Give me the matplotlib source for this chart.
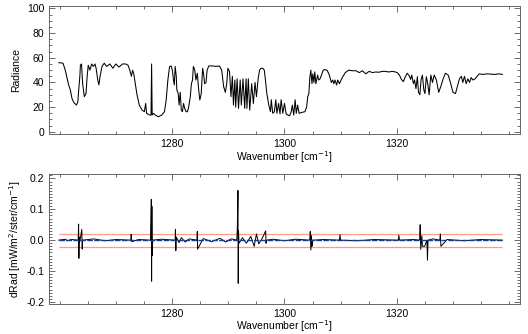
import matplotlib.pyplot as plt
from matplotlib.ticker import MultipleLocator, FixedLocator

plt.rcParams['font.family'] = ['Liberation Sans', 'DejaVu Sans']

# top panel: radiance spectrum
wn_rad = [1259.75, 1260.5, 1260.9, 1261.3, 1261.5, 1261.8, 1262.1, 1262.45, 1262.9, 1263.15,
          1263.3, 1263.5, 1263.6, 1263.8, 1264.0, 1264.3, 1264.6, 1264.8, 1265.0, 1265.3,
          1265.6, 1265.9, 1266.2, 1266.4, 1266.7, 1266.9, 1267.1, 1267.45, 1267.85, 1268.3,
          1268.85, 1269.4, 1269.9, 1270.5, 1271.1, 1271.7, 1272.1, 1272.4, 1272.7, 1272.9,
          1273.1, 1273.4, 1273.7, 1274.1, 1274.6, 1275.0, 1275.25, 1275.4, 1275.95, 1276.2,
          1276.3, 1276.4, 1276.65, 1276.95, 1277.5, 1278.1, 1278.6, 1278.9, 1279.2, 1279.5,
          1279.8, 1280.0, 1280.2, 1280.35, 1280.5, 1280.7, 1280.8, 1281.05, 1281.2, 1281.4,
          1281.6, 1281.8, 1282.0, 1282.2, 1282.45, 1282.7, 1282.9, 1283.2, 1283.4, 1283.6,
          1283.75, 1284.0, 1284.2, 1284.45, 1284.7, 1284.9, 1285.15, 1285.4, 1285.6, 1285.75,
          1286.0, 1286.2, 1286.5, 1287.2, 1287.8, 1288.4, 1288.8, 1289.15, 1289.45, 1289.7,
          1289.9, 1290.2, 1290.45, 1290.7, 1290.9, 1291.15, 1291.3, 1291.55, 1291.8, 1292.1,
          1292.3, 1292.6, 1292.9, 1293.15, 1293.3, 1293.55, 1293.8, 1294.15, 1294.45, 1294.75,
          1295.0, 1295.3, 1295.55, 1295.8, 1296.15, 1296.4, 1296.6, 1296.85, 1297.2, 1297.5,
          1297.65, 1297.9, 1298.2, 1298.45, 1298.65, 1298.95, 1299.2, 1299.4, 1299.7, 1300.0,
          1300.3, 1300.6, 1300.9, 1301.2, 1301.4, 1301.65, 1301.9, 1302.1, 1302.35, 1302.6,
          1303.05, 1303.65, 1303.95, 1304.15, 1304.35, 1304.5, 1304.7, 1304.9, 1305.05, 1305.25,
          1305.4, 1305.6, 1305.9, 1306.1, 1306.35, 1306.6, 1306.9, 1307.3, 1307.65, 1308.0,
          1308.35, 1308.6, 1308.8, 1309.0, 1309.3, 1309.5, 1309.8, 1310.1, 1310.4, 1310.85,
          1311.45, 1312.15, 1312.75, 1313.35, 1313.9, 1314.5, 1315.1, 1315.7, 1316.25, 1316.85,
          1317.45, 1318.0, 1318.6, 1319.2, 1319.8, 1320.1, 1320.5, 1320.85, 1321.2, 1321.55,
          1321.9, 1322.3, 1322.5, 1322.7, 1323.0, 1323.2, 1323.45, 1323.7, 1323.9, 1324.15,
          1324.35, 1324.6, 1324.85, 1325.05, 1325.3, 1325.55, 1325.8, 1326.1, 1326.4, 1326.7,
          1327.1, 1327.5, 1327.9, 1328.3, 1328.7, 1329.2, 1329.65, 1330.05, 1330.5, 1330.85,
          1331.2, 1331.55, 1331.8, 1332.1, 1332.4, 1332.7, 1333.0, 1333.3, 1333.6, 1334.0,
          1334.35, 1334.75, 1335.35, 1336.2, 1337.4, 1338.3, 1338.85]
radiance = [56.1, 55.6, 50, 42, 38, 34, 27, 23.6, 21.7, 24.4,
            34, 44.7, 54, 55, 39, 28.5, 31, 44.7, 54, 50,
            55, 53, 55, 51.5, 42, 38, 44.7, 53, 55.6, 53,
            55, 51.5, 55, 52.5, 55, 55, 54, 50, 45, 50,
            47.5, 39, 30, 21.7, 17.6, 16.3, 23, 15, 13.6, 13.6,
            55, 13.6, 15, 13.6, 12.2, 13.6, 16.3, 25.8, 42, 52.8,
            53.4, 50, 42, 38, 53, 45, 34, 31, 21.7, 32,
            17.6, 16.3, 23, 19, 16.3, 16.3, 20, 28.5, 39, 42,
            53, 50, 42, 47.5, 34, 25.8, 31, 51.5, 46, 39,
            40, 50, 53.4, 53.4, 53, 53.4, 50, 36.6, 32, 39,
            51.5, 49, 28.5, 45, 21.7, 42, 20, 43, 19, 42,
            21.7, 43, 19, 43, 19, 43, 17.6, 39, 23, 40,
            28.5, 43, 50, 51.5, 51.5, 50, 42, 31, 21.7, 16.3,
            26, 15, 16.3, 26, 15, 23, 14.5, 26, 15, 23,
            14.5, 13.6, 13, 16.3, 21.7, 13.6, 26, 15, 21.7, 15,
            15.7, 16.3, 20, 28.5, 31, 43, 50, 39, 47, 40,
            48.6, 39, 46, 42, 43, 46, 50, 50.5, 49.5, 46,
            40, 42, 39, 42, 38, 42, 39, 42, 44.7, 48,
            50, 49.5, 49.5, 48, 49.5, 47, 49, 48, 48.5, 48.3,
            49, 49, 48.5, 49, 48.5, 48, 46, 42.5, 40.7, 44.7,
            47.5, 45, 42.5, 46, 39, 42, 35, 44.7, 32, 30,
            42, 46, 34, 31, 44.7, 39, 30, 46, 40, 46,
            42, 32, 37, 43, 47.5, 46, 39, 32, 31, 37,
            43, 45, 40, 45, 39, 43, 40, 44, 42, 43,
            45, 47, 46.5, 47, 46.5, 47, 46.5]

# bottom panel: radiance difference
wn_diff = [1259.75, 1261.0, 1261.2, 1262.0, 1263.2, 1263.28, 1263.33, 1263.4, 1263.5, 1263.85,
           1263.92, 1264.0, 1266.0, 1268.0, 1270.0, 1272.6, 1272.65, 1272.75, 1274.0, 1276.1,
           1276.15, 1276.25, 1276.3, 1276.35, 1276.4, 1276.5, 1278.0, 1280.5, 1280.55, 1280.62,
           1280.7, 1281.2, 1281.6, 1282.3, 1283.0, 1284.4, 1284.45, 1284.5, 1285.5, 1287.0,
           1288.5, 1289.5, 1290.5, 1291.5, 1291.6, 1291.7, 1291.75, 1291.8, 1291.9, 1292.5,
           1293.2, 1294.0, 1294.6, 1295.0, 1295.4, 1296.0, 1296.65, 1296.7, 1296.8, 1298.0,
           1300.0, 1302.0, 1304.5, 1304.6, 1304.7, 1304.8, 1304.9, 1305.0, 1307.0, 1309.8,
           1309.9, 1310.0, 1313.0, 1316.0, 1320.3, 1320.4, 1320.5, 1323.0, 1324.1, 1324.2,
           1324.3, 1324.5, 1324.6, 1325.0, 1325.4, 1325.5, 1325.6, 1326.5, 1327.7, 1327.8,
           1327.9, 1329.0, 1332.0, 1335.0, 1338.85]
drad = [0.0, 0.003, -0.002, 0.002, 0.0, 0.052, -0.059, 0.01, -0.005, 0.035,
        -0.029, 0.0, 0.004, -0.002, 0.002, 0.0, 0.019, -0.005, 0.002, 0.0,
        0.045, 0.132, -0.133, 0.11, -0.05, 0.0, 0.003, 0.0, 0.035, -0.034,
        0.01, -0.008, 0.008, -0.006, 0.004, 0.0, 0.028, -0.029, 0.005, -0.005,
        0.006, -0.006, 0.004, 0.0, 0.048, 0.161, -0.14, 0.03, -0.01, 0.008,
        -0.01, 0.012, -0.02, 0.02, -0.012, 0.005, 0.03, -0.01, 0.0, 0.003,
        -0.002, 0.003, 0.0, 0.028, -0.032, 0.015, -0.02, 0.0, 0.002, 0.0,
        0.018, 0.0, -0.002, 0.002, 0.0, 0.016, 0.0, 0.002, 0.0, 0.05,
        -0.03, 0.015, -0.02, -0.02, 0.0, -0.065, 0.0, 0.004, 0.0, 0.02,
        -0.02, 0.002, -0.002, 0.002, 0.0]
wn_mean = [1259.75, 1280.0, 1300.0, 1320.0, 1338.85]
drad_mean = [0.0, 0.0, 0.0, 0.0, 0.0]
limits = [-0.021, 0.021]
x_labels = [1280, 1300, 1320]

fig = plt.figure(figsize=(5.28, 3.34), dpi=100)
ax1 = fig.add_axes([0.0928, 0.598, 0.892, 0.384])
ax2 = fig.add_axes([0.0928, 0.0907, 0.892, 0.388])

ax1.plot(wn_rad, radiance, color='black', lw=0.75)
ax1.set_ylim(-2, 102)
ax1.yaxis.set_major_locator(MultipleLocator(20))
ax1.yaxis.set_minor_locator(MultipleLocator(5))
ax1.set_ylabel('Radiance', fontsize=7.5, labelpad=4)

ax2.hlines(limits, wn_diff[0], wn_diff[-1], color='#ff9a8a', lw=0.9)
ax2.plot(wn_diff, drad, color='black', lw=0.7)
ax2.plot(wn_mean, drad_mean, color='#1a3a8a', lw=1.0, dashes=(4, 1))
ax2.set_ylim(-0.206, 0.214)
ax2.yaxis.set_major_locator(MultipleLocator(0.1))
ax2.yaxis.set_minor_locator(MultipleLocator(0.01))
ax2.yaxis.set_major_formatter(plt.FuncFormatter(lambda v, p: '%.1f' % v))
ax2.set_ylabel('dRad [mW/m$^2$/ster/cm$^{-1}$]', fontsize=7.5, labelpad=2)

for ax in (ax1, ax2):
    ax.set_xlim(1258, 1342)
    ax.xaxis.set_major_locator(FixedLocator(x_labels))
    ax.xaxis.set_minor_locator(MultipleLocator(5))
    ax.set_xlabel('Wavenumber [cm$^{-1}$]', fontsize=7.5, labelpad=0)
    ax.tick_params(which='both', direction='in', top=True, right=True,
                   labelsize=7.5, color='#555555', pad=3.5)
    ax.tick_params(which='major', length=4, width=0.6)
    ax.tick_params(which='minor', length=2, width=0.6)
    for s in ax.spines.values():
        s.set_color('#666666')
        s.set_linewidth(0.7)

fig.savefig('out.png', dpi=100)
